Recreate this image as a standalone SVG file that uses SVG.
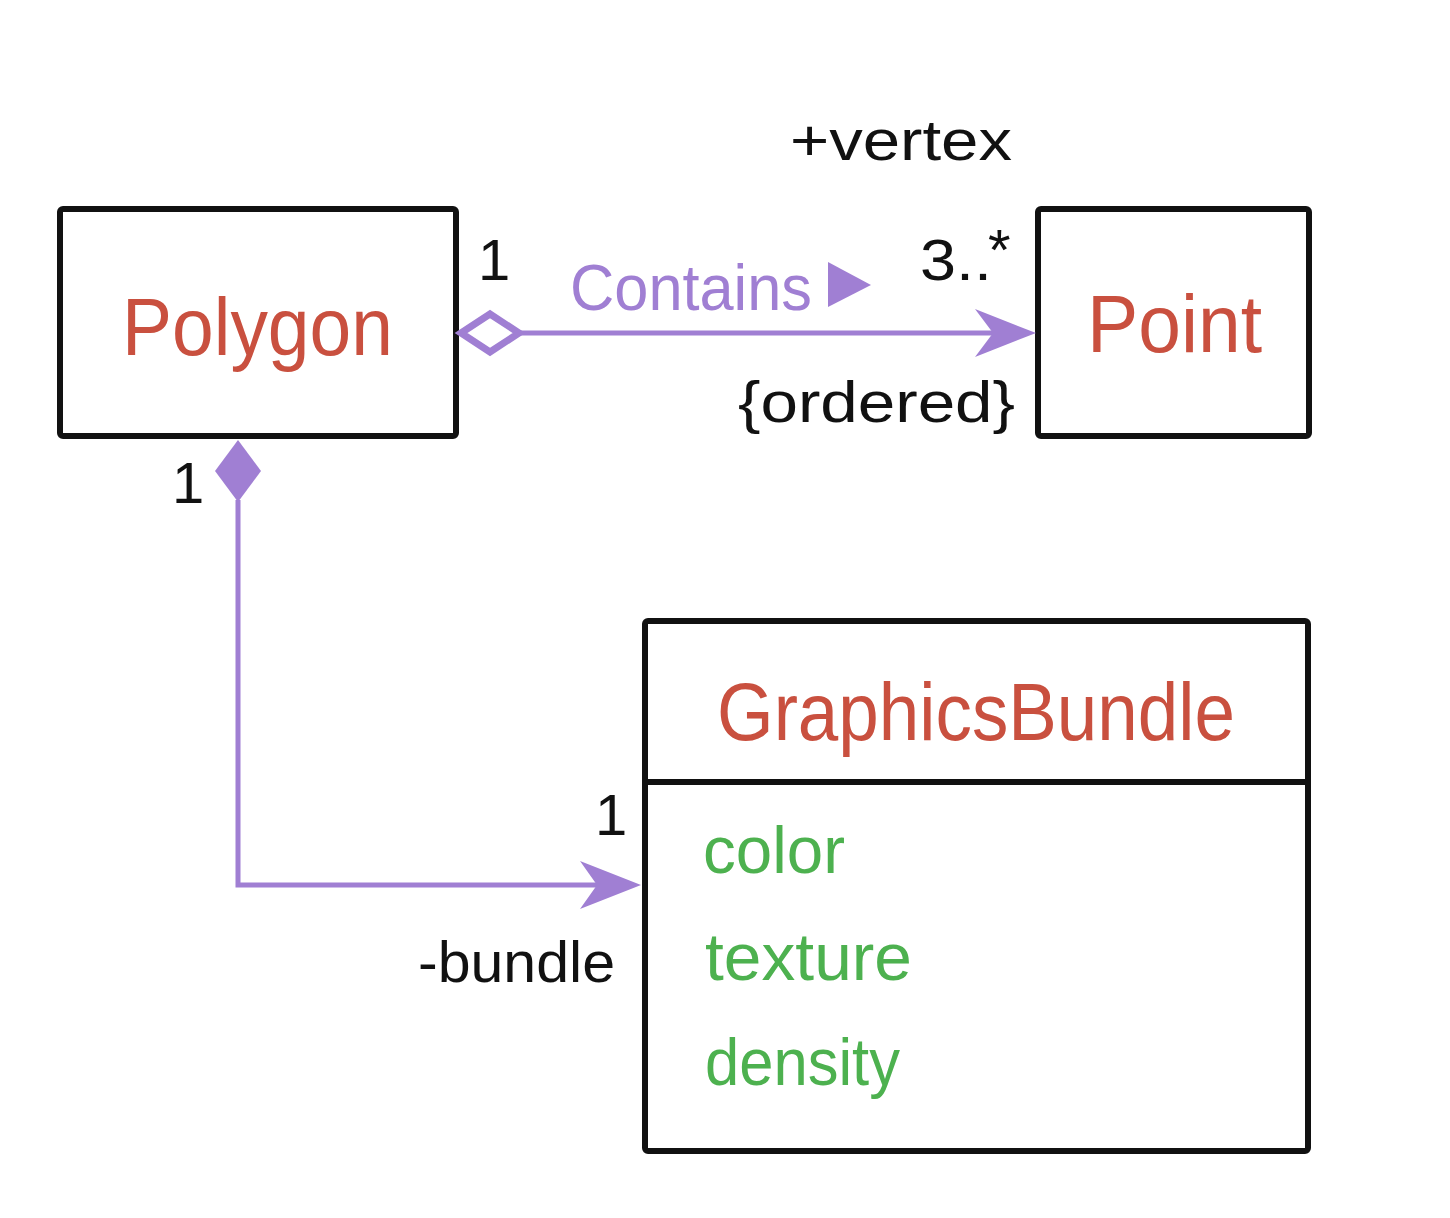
<svg xmlns="http://www.w3.org/2000/svg" width="1450" height="1218" viewBox="0 0 1450 1218">
<style>
.box{fill:#ffffff;stroke:#111111;stroke-width:6;stroke-linejoin:round}
.cls{font-family:"Liberation Sans",Arial,sans-serif;fill:#c9503f;font-size:82px}
.attr{font-family:"Liberation Sans",Arial,sans-serif;fill:#4db14f;font-size:66px}
.lbl{font-family:"Liberation Sans",Arial,sans-serif;fill:#111111;font-size:58px}
.conn{fill:none;stroke:#a07fd3;stroke-width:5}
.purp{fill:#a07fd3}
</style>
<rect width="1450" height="1218" fill="#ffffff"/>
<g id="Polygon">
<rect class="box" x="60" y="209" width="396" height="227" rx="3"/>
<text class="cls" x="122" y="355" textLength="271" lengthAdjust="spacingAndGlyphs">Polygon</text>
</g>
<g id="Point">
<rect class="box" x="1038" y="209" width="271" height="227" rx="3"/>
<text class="cls" x="1087" y="352" textLength="175" lengthAdjust="spacingAndGlyphs">Point</text>
</g>
<g id="GraphicsBundle">
<rect class="box" x="645" y="621" width="663" height="530" rx="3"/>
<line x1="645" y1="782" x2="1308" y2="782" stroke="#111111" stroke-width="6"/>
<text class="cls" x="717" y="740" textLength="518" lengthAdjust="spacingAndGlyphs">GraphicsBundle</text>
<text class="attr" x="703" y="873" textLength="142" lengthAdjust="spacingAndGlyphs">color</text>
<text class="attr" x="705" y="980" textLength="207" lengthAdjust="spacingAndGlyphs">texture</text>
<text class="attr" x="705" y="1085" textLength="195" lengthAdjust="spacingAndGlyphs">density</text>
</g>
<g id="connectors">
<g id="contains">
<line class="conn" x1="520" y1="333" x2="1000" y2="333"/>
<polygon points="461,333 490,314 519,333 490,352" fill="#ffffff" stroke="#a07fd3" stroke-width="7" stroke-linejoin="miter"/>
<polygon class="purp" points="1036,333 975,309 993,333 975,357"/>
<text x="570" y="310" font-family="'Liberation Sans',Arial,sans-serif" font-size="64" fill="#a07fd3" textLength="242" lengthAdjust="spacingAndGlyphs">Contains</text>
<polygon class="purp" points="828,262 871,285 828,307"/>
<text class="lbl" x="790" y="160" textLength="222" lengthAdjust="spacingAndGlyphs">+vertex</text>
<text class="lbl" x="478" y="280">1</text>
<text class="lbl" x="920" y="280" textLength="72" lengthAdjust="spacingAndGlyphs">3..</text>
<text class="lbl" x="988" y="270" font-size="46">*</text>
<text class="lbl" x="738" y="422" textLength="277" lengthAdjust="spacingAndGlyphs">{ordered}</text>
</g>
<g id="bundle">
<polyline class="conn" points="238,500 238,885 610,885"/>
<polygon class="purp" points="238,440 261,471 238,502 215,471"/>
<polygon class="purp" points="641,885 580,861 597,885 580,909"/>
<text class="lbl" x="172" y="503">1</text>
<text class="lbl" x="595" y="835">1</text>
<text class="lbl" x="418" y="982" textLength="197" lengthAdjust="spacingAndGlyphs">-bundle</text>
</g>
</g>
</svg>
